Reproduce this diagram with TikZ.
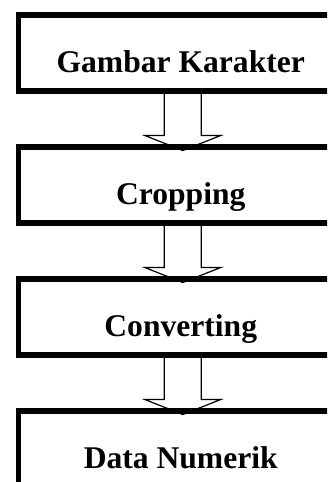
\documentclass[tikz,border=0pt]{standalone}
\usepackage{fontspec}
\setmainfont{Liberation Serif}
\usetikzlibrary{positioning,calc,backgrounds}

\begin{document}
\begin{tikzpicture}[x=1pt,y=1pt,
                    node distance=50.5pt,
                    stage/.style={draw,line width=5.5pt,minimum width=325pt,minimum height=76pt,
                                  inner sep=0pt,text height=40pt,text depth=0pt,
                                  font=\fontsize{31.6}{31.6}\selectfont\bfseries},
                    blockarrow/.style={draw,fill=white,line width=1.2pt,line join=miter}
                ]

                \useasboundingbox (0,0) rectangle (327,-482);
                \clip (0,0) rectangle (327,-482);

                % The boxes
                \node[stage,anchor=north west] (gambar) at (15.5,-12) {Gambar Karakter};
                \node[stage,below=of gambar] (crop) {Cropping};
                \node[stage,below=of crop] (convert) {Converting};
                \node[stage,below=of convert] (numerik) {Data Numerik};

                % The arrows
                \begin{pgfonlayer}{background}
                \foreach \src/\dst in {gambar/crop,crop/convert,convert/numerik}
                    \draw[blockarrow] let \p1=($(\src.south)+(2,0)$), \p2=($(\dst.north)+(2,-6.5)$) in
                        (\x1-18.5pt,\y1) -- (\x1-18.5pt,\y2+15pt) -- (\x1-38pt,\y2+15pt) -- (\x2,\y2)
                        -- (\x1+38pt,\y2+15pt) -- (\x1+18.5pt,\y2+15pt) -- (\x1+18.5pt,\y1);
                \end{pgfonlayer}
            \end{tikzpicture}
\end{document}
